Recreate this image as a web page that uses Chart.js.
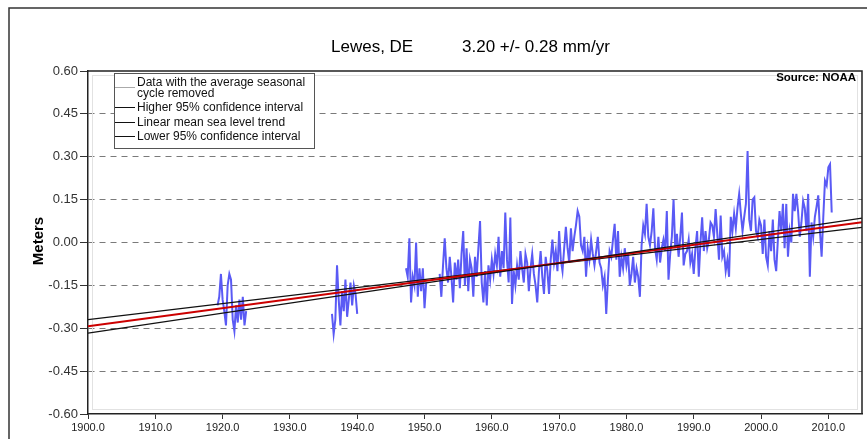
<!DOCTYPE html>
<html>
<head>
<meta charset="utf-8">
<script src="https://cdn.jsdelivr.net/npm/chart.js@4.4.1/dist/chart.umd.min.js"></script>
<style>
body{margin:0;background:#fff;}
canvas{display:block;}
</style>
</head>
<body>
<canvas id="seaChart" width="867" height="439"></canvas>
<script>
// sea level, seasonal cycle removed, one value per quarter year (meters)
const step = 0.25;

const seg1Start = 1919.25;
const seg1 = [-0.22,-0.19,-0.11,-0.20,-0.24,-0.29,-0.15,-0.11,-0.13,-0.27,-0.31,-0.22,-0.28,-0.20,-0.27,-0.19,-0.29,-0.24];

const seg2Start = 1936.25;
const seg2 = [-0.25,-0.32,-0.27,-0.08,-0.20,-0.29,-0.17,-0.24,-0.13,-0.26,-0.20,-0.14,-0.22,-0.15,-0.18,-0.25];

const seg3Start = 1947.25;
const seg3 = [-0.09,-0.12,0.015,-0.21,-0.12,-0.15,0.00,-0.19,-0.09,-0.17,-0.09,-0.23,-0.14];

const seg4Start = 1952.25;
const seg4 = [
-0.11,-0.19,-0.08,
0.015,-0.09,-0.14,-0.05,
-0.12,-0.21,-0.07,-0.13,
-0.06,-0.16,-0.04,0.04,
-0.15,-0.02,-0.17,-0.06,
-0.09,-0.19,-0.05,-0.12,
-0.02,0.075,-0.14,-0.21,
-0.10,-0.22,-0.08,-0.13,
-0.06,-0.11,-0.04,-0.08,
0.02,-0.12,-0.03,-0.09,
0.105,-0.06,-0.14,0.087,
-0.215,-0.10,-0.15,-0.08,
-0.13,-0.03,-0.09,-0.14,
-0.04,-0.07,-0.17,-0.09,
-0.04,-0.11,-0.15,-0.21,
-0.10,-0.03,-0.12,-0.18,
-0.05,-0.10,-0.18,-0.06,
0.01,-0.07,-0.03,-0.10,
0.04,-0.06,-0.10,-0.02,
0.055,-0.02,-0.07,0.05,
-0.03,0.02,0.06,0.11,
0.09,-0.01,-0.03,0.02,
-0.12,-0.02,-0.06,0.01,
-0.04,-0.08,-0.03,0.02,
-0.07,-0.09,-0.15,-0.12,
-0.25,-0.13,-0.03,-0.05,
0.01,0.065,-0.06,0.04,
-0.12,-0.05,-0.09,-0.02,
-0.08,-0.04,-0.15,-0.11,
-0.05,-0.14,-0.09,-0.12,
-0.19,-0.01,0.06,0.03,
0.135,0.02,-0.01,0.04,
0.12,-0.02,-0.06,0.02,
-0.07,-0.02,0.01,-0.03,
0.11,-0.13,-0.04,0.02,
0.15,-0.02,0.03,-0.05,
0.02,0.105,-0.08,-0.04,
-0.03,0.01,-0.07,-0.04,
-0.11,-0.02,0.04,-0.12,
0.00,0.088,-0.03,0.04,
-0.02,0.01,0.07,0.06,
0.02,0.117,0.03,-0.06,
0.094,-0.05,-0.03,-0.10,
-0.06,-0.12,0.09,0.04,
0.10,0.05,0.12,0.17,
0.10,0.04,0.09,0.135,
0.32,0.08,0.04,0.15,
0.158,0.04,0.02,0.08,
0.06,-0.04,0.08,-0.05,
-0.08,0.04,-0.03,0.08,
-0.06,-0.10,0.01,0.11,
0.04,0.135,-0.02,0.135,
-0.05,0.04,0.00,0.17,
0.11,0.17,0.11,0.02,
0.07,0.145,0.12,0.04,
0.17,-0.12,0.07,0.02,
0.09,0.125,0.165,0.04,
-0.05,0.09,0.216,0.20,
0.263,0.274,0.105
];

// trend lines, read at both ends of the axis
const trendYears = [1900, 2015];
const trendLine = [-0.293, 0.071];
const higherCI = [-0.317, 0.085];
const lowerCI = [-0.270, 0.053];

const legendLabels = [
["Data with the average seasonal","cycle removed"],
["Higher 95% confidence interval"],
["Linear mean sea level trend"],
["Lower 95% confidence interval"]
];

function buildPoints(){
const pts = [];
[[seg1Start,seg1],[seg2Start,seg2],[seg3Start,seg3],[seg4Start,seg4]].forEach(([start,vals]) => {
vals.forEach((v,i) => pts.push({x:start + i*step, y:v}));
pts.push({x:start + vals.length*step, y:null});
});
return pts;
}

function linePoints(vals){
return trendYears.map((yr,i) => ({x:yr, y:vals[i]}));
}

const FONT = '"Liberation Sans", Arial, sans-serif';

const extras = {
id:"extras",
beforeDraw(chart){
const ctx = chart.ctx;
ctx.save();
ctx.fillStyle = "#fff";
ctx.fillRect(0,0,chart.width,chart.height);
ctx.restore();
},
beforeDatasetsDraw(chart){
const {ctx, chartArea:a} = chart;
ctx.save();
ctx.strokeStyle = "#e2e2e2";
ctx.lineWidth = 1;
ctx.strokeRect(a.left+4.5, a.top+4.5, a.right-a.left-9, a.bottom-a.top-9);
ctx.restore();
},
afterDraw(chart){
const {ctx, chartArea:a} = chart;
ctx.save();

// outer frame
ctx.strokeStyle = "#333";
ctx.lineWidth = 1.5;
ctx.strokeRect(9, 8, 900, 500);

// top and right border of the plot
ctx.strokeStyle = "#222";
ctx.lineWidth = 1.5;
ctx.beginPath();
ctx.moveTo(a.left, a.top);
ctx.lineTo(a.right, a.top);
ctx.lineTo(a.right, a.bottom);
ctx.stroke();

// titles
ctx.fillStyle = "#000";
ctx.textBaseline = "middle";
ctx.textAlign = "left";
ctx.font = "17px " + FONT;
ctx.fillText("Lewes, DE", 331, 47);
ctx.fillText("3.20 +/- 0.28 mm/yr", 462, 47);

ctx.font = "bold 11.5px " + FONT;
ctx.textAlign = "right";
ctx.fillText("Source: NOAA", 856, 78);

ctx.save();
ctx.translate(39, 241);
ctx.rotate(-Math.PI/2);
ctx.textAlign = "center";
ctx.font = "bold 15px " + FONT;
ctx.fillText("Meters", 0, 0);
ctx.restore();

// legend
ctx.fillStyle = "#fff";
ctx.fillRect(114.5, 73.5, 200, 75);
ctx.strokeStyle = "#555";
ctx.lineWidth = 1;
ctx.strokeRect(114.5, 73.5, 200, 75);

const sampleY = [87, 107, 122, 136];
const sampleColor = ["#aaa", "#111", "#111", "#111"];
const textY = [[83, 94], [108], [123], [137]];
ctx.font = "12px " + FONT;
ctx.textAlign = "left";
legendLabels.forEach((lines, i) => {
ctx.strokeStyle = sampleColor[i];
ctx.beginPath();
ctx.moveTo(115, sampleY[i] + 0.5);
ctx.lineTo(135, sampleY[i] + 0.5);
ctx.stroke();
ctx.fillStyle = "#111";
lines.forEach((t, j) => ctx.fillText(t, 137, textY[i][j]));
});

ctx.restore();
}
};

new Chart(document.getElementById("seaChart"), {
type:"line",
data:{
datasets:[
{
label:"Data with the average seasonal cycle removed",
data:buildPoints(),
borderColor:"#5a5af5",
borderWidth:2,
pointRadius:0,
spanGaps:false,
order:2
},
{
label:"Higher 95% confidence interval",
data:linePoints(higherCI),
borderColor:"#111",
borderWidth:1.2,
pointRadius:0,
order:1
},
{
label:"Linear mean sea level trend",
data:linePoints(trendLine),
borderColor:"#cc0000",
borderWidth:2,
pointRadius:0,
order:1
},
{
label:"Lower 95% confidence interval",
data:linePoints(lowerCI),
borderColor:"#111",
borderWidth:1.2,
pointRadius:0,
order:1
}
]
},
options:{
responsive:false,
animation:false,
devicePixelRatio:1,
layout:{padding:{top:71, right:5, left:0, bottom:0}},
plugins:{legend:{display:false}, tooltip:{enabled:false}},
scales:{
x:{
type:"linear",
min:1900,
max:2015,
afterFit(scale){ scale.height = 25; },
ticks:{
stepSize:10,
includeBounds:false,
maxRotation:0,
autoSkip:false,
padding:2,
color:"#222",
font:{family:FONT, size:11},
callback:v => v.toFixed(1)
},
grid:{drawOnChartArea:false, tickLength:5, tickColor:"#333", tickBorderDash:[]},
border:{color:"#222", width:1.5}
},
y:{
min:-0.6,
max:0.6,
afterFit(scale){ scale.width = 88; },
ticks:{
stepSize:0.15,
padding:2,
color:"#333",
font:{family:FONT, size:13},
callback:v => Math.abs(v) < 1e-9 ? "0.00" : v.toFixed(2)
},
grid:{
color:c => (Math.abs(Math.abs(c.tick.value) - 0.6) < 1e-9) ? "rgba(0,0,0,0)" : "#7a7a7a",
lineWidth:1,
tickLength:8,
tickColor:"#333",
tickBorderDash:[]
},
border:{color:"#222", width:1.5, dash:[6,5]}
}
}
},
plugins:[extras]
});
</script>
</body>
</html>
